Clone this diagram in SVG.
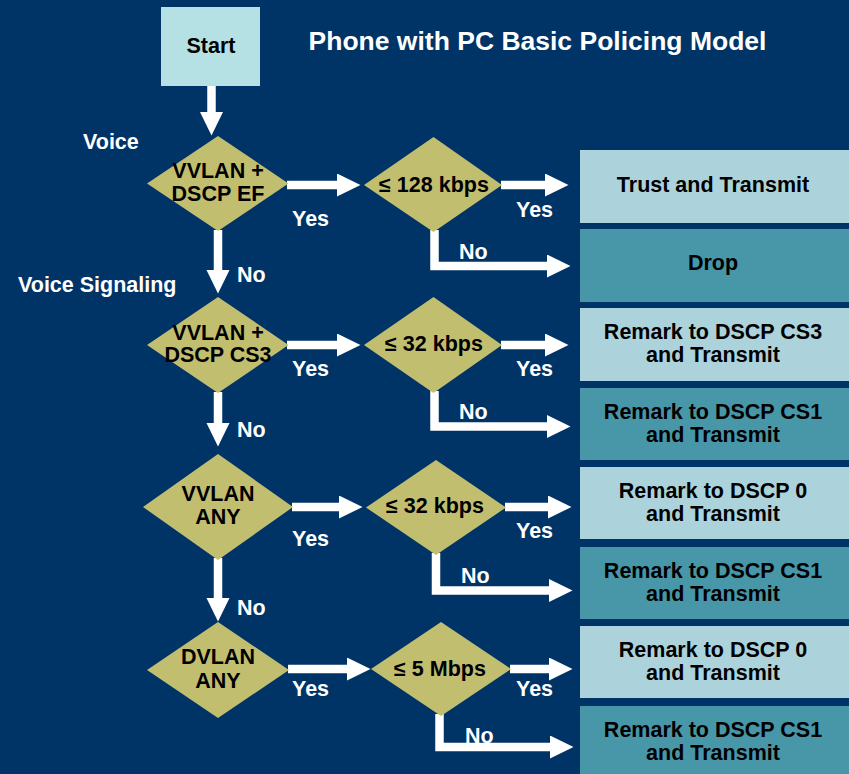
<svg xmlns="http://www.w3.org/2000/svg" width="849" height="774" viewBox="0 0 849 774">
<defs>
<style>
text{font-family:"Liberation Sans",Arial,sans-serif;font-weight:bold;font-size:21.5px}
.t{fill:#000;text-anchor:middle}
.w{fill:#fff}
.title{font-size:26.5px;fill:#fff;text-anchor:middle}
.dia{fill:#c2be6f}
.lt{fill:#acd3db}
.dk{fill:#4797a9}
.start{fill:#b5e0e4}
.c{fill:none;stroke:#fff;stroke-width:8.5;stroke-linejoin:miter;marker-end:url(#ah)}
</style>
<marker id="ah" markerUnits="userSpaceOnUse" markerWidth="24" markerHeight="24" refX="0" refY="11.5" orient="auto" viewBox="0 0 24 24">
<path d="M0,0 L23.5,11.5 L0,23 Z" fill="#fff"/>
</marker>
</defs>
<rect width="849" height="774" fill="#003366"/>
<text class="title" x="537.5" y="50">Phone with PC Basic Policing Model</text>

<g id="connectors">
<path class="c" d="M211.5,86 V112"/>
<path class="c" d="M218,230 V270"/>
<path class="c" d="M218,392 V423"/>
<path class="c" d="M218,558 V598"/>
<path class="c" d="M287,185 H337"/>
<path class="c" d="M501,185 H545"/>
<path class="c" d="M434.5,230 V266 H547"/>
<path class="c" d="M287,345 H337"/>
<path class="c" d="M501,345 H545"/>
<path class="c" d="M434.5,391 V426.5 H547"/>
<path class="c" d="M292,507 H339"/>
<path class="c" d="M505,507 H548"/>
<path class="c" d="M436,553 V590.5 H549"/>
<path class="c" d="M288,669 H347"/>
<path class="c" d="M510,669 H549"/>
<path class="c" d="M439.5,714 V747 H550"/>
</g>

<g id="labels">
<text class="w" x="83" y="149">Voice</text>
<text class="w" x="18" y="292">Voice Signaling</text>
<text class="w" x="292" y="226">Yes</text>
<text class="w" x="516" y="217">Yes</text>
<text class="w" x="459" y="259">No</text>
<text class="w" x="237" y="282">No</text>
<text class="w" x="292" y="376">Yes</text>
<text class="w" x="516" y="376">Yes</text>
<text class="w" x="459" y="419">No</text>
<text class="w" x="237" y="437">No</text>
<text class="w" x="292" y="546">Yes</text>
<text class="w" x="516" y="538">Yes</text>
<text class="w" x="461" y="583">No</text>
<text class="w" x="237" y="615">No</text>
<text class="w" x="292" y="696">Yes</text>
<text class="w" x="516" y="696">Yes</text>
<text class="w" x="465" y="743">No</text>
</g>

<g id="start">
<rect class="start" x="161" y="7" width="99" height="79"/>
<text class="t" x="211" y="53">Start</text>
</g>

<g id="d1">
<polygon class="dia" points="218,136 288.5,183.5 218,231 147,183.5"/>
<text class="t" x="218" y="178">VVLAN +</text>
<text class="t" x="218" y="201">DSCP EF</text>
</g>
<g id="d2">
<polygon class="dia" points="433.5,137 502,185 433.5,232 364,185"/>
<text class="t" x="434" y="192">≤ 128 kbps</text>
</g>
<g id="d3">
<polygon class="dia" points="218,297 288.5,345 218,393 147,345"/>
<text class="t" x="218" y="340">VVLAN +</text>
<text class="t" x="218" y="362">DSCP CS3</text>
</g>
<g id="d4">
<polygon class="dia" points="433.5,297 502,345 433.5,393 364,345"/>
<text class="t" x="434" y="351">≤ 32 kbps</text>
</g>
<g id="d5">
<polygon class="dia" points="218,454 293,507 218,560 143,507"/>
<text class="t" x="218" y="501">VVLAN</text>
<text class="t" x="218" y="524">ANY</text>
</g>
<g id="d6">
<polygon class="dia" points="436,460 506,507.5 436,555 366,507.5"/>
<text class="t" x="435" y="513">≤ 32 kbps</text>
</g>
<g id="d7">
<polygon class="dia" points="218,622 289,670 218,718 147,670"/>
<text class="t" x="218" y="664">DVLAN</text>
<text class="t" x="218" y="688">ANY</text>
</g>
<g id="d8">
<polygon class="dia" points="441,622 511,669 441,716 371,669"/>
<text class="t" x="440" y="676">≤ 5 Mbps</text>
</g>

<g id="b1">
<rect class="lt" x="580" y="150" width="270" height="73"/>
<text class="t" x="713" y="192">Trust and Transmit</text>
</g>
<g id="b2">
<rect class="dk" x="580" y="229" width="270" height="73"/>
<text class="t" x="713" y="270">Drop</text>
</g>
<g id="b3">
<rect class="lt" x="580" y="308" width="270" height="73"/>
<text class="t" x="713" y="339">Remark to DSCP CS3</text>
<text class="t" x="713" y="362">and Transmit</text>
</g>
<g id="b4">
<rect class="dk" x="580" y="388" width="270" height="72"/>
<text class="t" x="713" y="419">Remark to DSCP CS1</text>
<text class="t" x="713" y="442">and Transmit</text>
</g>
<g id="b5">
<rect class="lt" x="580" y="467" width="270" height="72"/>
<text class="t" x="713" y="498">Remark to DSCP 0</text>
<text class="t" x="713" y="521">and Transmit</text>
</g>
<g id="b6">
<rect class="dk" x="580" y="547" width="270" height="72"/>
<text class="t" x="713" y="578">Remark to DSCP CS1</text>
<text class="t" x="713" y="601">and Transmit</text>
</g>
<g id="b7">
<rect class="lt" x="580" y="626" width="270" height="72"/>
<text class="t" x="713" y="657">Remark to DSCP 0</text>
<text class="t" x="713" y="680">and Transmit</text>
</g>
<g id="b8">
<rect class="dk" x="580" y="706" width="270" height="69"/>
<text class="t" x="713" y="737">Remark to DSCP CS1</text>
<text class="t" x="713" y="760">and Transmit</text>
</g>
</svg>
